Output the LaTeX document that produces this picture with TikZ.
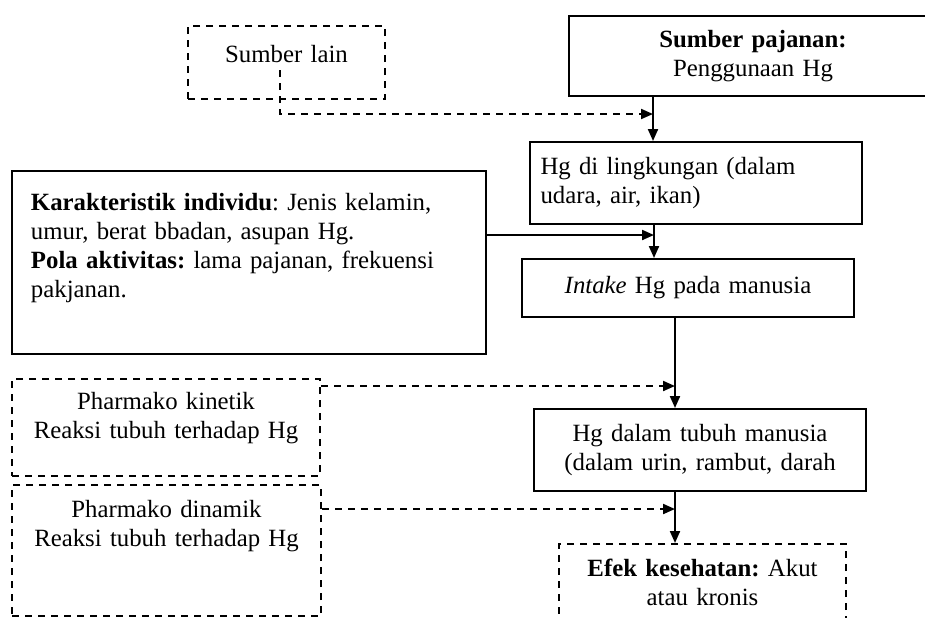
\documentclass[tikz,border=0pt]{standalone}
\usepackage{fontspec}
\setmainfont{Liberation Serif}
\usepackage{tikz}
\usetikzlibrary{arrows.meta}
\newcommand{\hgsize}{\fontsize{12.4pt}{14.5pt}\selectfont\frenchspacing}

\begin{document}
\begin{tikzpicture}[x=0.5pt, y=-0.5pt,
  box/.style={draw, line width=1pt, anchor=north west, inner ysep=0pt, font=\hgsize},
  dbox/.style={box, dash pattern=on 3.5pt off 3pt},
  link/.style={line width=1pt, -{Triangle[length=6pt, width=5pt]}},
  dlink/.style={link, dash pattern=on 3.5pt off 3pt}]
  \useasboundingbox (0,0) rectangle (925,617);

  % Sources
  \node[dbox, text width=90pt, align=center, inner xsep=4.25pt,
        text height=18pt, text depth=18.5pt] (lain) at (187,25) {Sumber lain};
  \node[box, text width=176pt, align=center, inner xsep=4pt,
        minimum height=40pt] (pajanan) at (568,15) {\textbf{Sumber pajanan:}\\Penggunaan Hg};

  % Main chain
  \node[box, text width=155.5pt, align=left, inner xsep=5.25pt,
        minimum height=41pt] (lingk) at (529,141) {Hg di lingkungan (dalam\\udara, air, ikan)};
  \node[box, text width=158pt, align=center, inner xsep=4pt,
        minimum height=29pt] (intake) at (521,258) {\textit{Intake} Hg pada manusia};
  \node[box, text width=158pt, align=center, inner xsep=4pt,
        minimum height=41pt] (tubuh) at (533,408) {Hg dalam tubuh manusia\\(dalam urin, rambut, darah};
  \node[dbox, text width=135.5pt, align=center, inner xsep=4pt,
        text height=16pt, text depth=23pt] (efek) at (558,543) {\textbf{Efek kesehatan:} Akut\\atau kronis};

  % Factors on the left
  \node[box, text width=218pt, align=left, inner xsep=9.5pt,
        text height=19.5pt, text depth=72pt] (kar) at (11,170)
        {\textbf{Karakteristik individu}: Jenis kelamin,\\umur, berat bbadan, asupan Hg.\\
         \textbf{Pola aktivitas:} lama pajanan, frekuensi\\pakjanan.};
  \node[dbox, text width=146pt, align=center, inner xsep=4pt,
        text height=15pt, text depth=33.5pt] (kin) at (11,378) {Pharmako kinetik\\Reaksi tubuh terhadap Hg};
  \node[dbox, text width=146.5pt, align=center, inner xsep=4pt,
        text height=16pt, text depth=49.5pt] (din) at (11,484) {Pharmako dinamik\\Reaksi tubuh terhadap Hg};

  % Connectors
  \coordinate (lainfoot) at (280,70);
  \coordinate (j1) at (653,114);
  \coordinate (j2) at (654,235);
  \coordinate (j3) at (675,386);
  \coordinate (j4) at (675,509);
  \draw[dlink] (lainfoot) |- (j1);
  \draw[link] (pajanan.south -| j1) -- (lingk.north -| j1);
  \draw[link] (kar.east |- j2) -- (j2);
  \draw[link] (lingk.south -| j2) -- (intake.north -| j2);
  \draw[dlink] (kin.east |- j3) -- (j3);
  \draw[link] (intake.south -| j3) -- (tubuh.north -| j3);
  \draw[dlink] (din.east |- j4) -- (j4);
  \draw[link] (tubuh.south -| j4) -- (efek.north -| j4);
\end{tikzpicture}
\end{document}
